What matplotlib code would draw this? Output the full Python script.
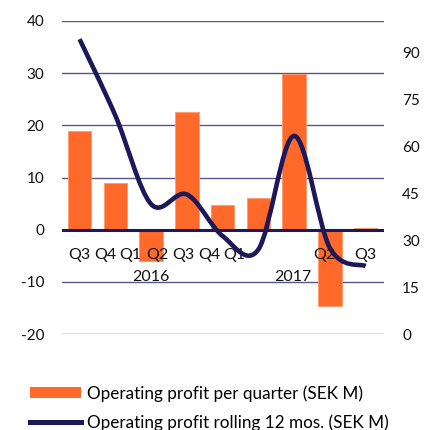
import matplotlib

matplotlib.use("Agg")

import matplotlib.pyplot as plt
from matplotlib.lines import Line2D
from matplotlib.patches import PathPatch, Patch
from matplotlib.path import Path

# Kvartalsdata (SEK M)
quarters = ["Q3", "Q4", "Q1", "Q2", "Q3", "Q4", "Q1", "Q2", "Q3"]
years = ["2016", "2017"]
profit_quarter = [18.9, 9.0, -6.1, 22.6, 4.8, 6.0, 29.8, -14.6, 0.3]
profit_rolling = [94.2, 69.8, 41.5, 44.6, 31.3, 27.0, 63.3, 27.5, 21.7]

# label placement as drawn in the original (category units)
quarter_label_x = [0.0, 0.71, 1.42, 2.17, 2.89, 3.63, 4.34, 6.86, 7.99]
year_label_x = [2.0, 5.97]

BAR_COLOR = "#ff6a2b"
LINE_COLOR = "#1d1858"
GRID_COLOR = "#57538c"

plt.rcParams["font.family"] = ["Lato", "DejaVu Sans"]
plt.rcParams["font.size"] = 11
plt.rcParams["axes.unicode_minus"] = False


def smooth_path(xs, ys):
    """Bezier-kurva genom punkterna, ungefar som Excel jamnar ut linjer."""
    pts = list(zip(xs, ys))
    verts = [pts[0]]
    codes = [Path.MOVETO]
    n = len(pts)
    for i in range(n - 1):
        p0 = pts[i - 1] if i > 0 else pts[i]
        p1 = pts[i]
        p2 = pts[i + 1]
        p3 = pts[i + 2] if i + 2 < n else pts[i + 1]
        c1 = (p1[0] + (p2[0] - p0[0]) / 6, p1[1] + (p2[1] - p0[1]) / 6)
        c2 = (p2[0] - (p3[0] - p1[0]) / 6, p2[1] - (p3[1] - p1[1]) / 6)
        verts += [c1, c2, p2]
        codes += [Path.CURVE4] * 3
    return Path(verts, codes)


fig = plt.figure(figsize=(4.32, 4.30), dpi=100)
ax = fig.add_axes([61.7 / 432, 1 - 334 / 430, (383.5 - 61.7) / 432, 313 / 430])
ax2 = ax.twinx()

x = list(range(len(quarters)))
ax.bar(x, profit_quarter, width=0.66, color=BAR_COLOR, edgecolor="#ff9a6a", linewidth=0.6, zorder=2)

ax.set_xlim(-0.5, len(quarters) - 0.5)
ax.set_ylim(-20, 40)
ax.set_yticks([-20, -10, 0, 10, 20, 30, 40])
for value in [-20, -10, 10, 20, 30, 40]:
    ax.axhline(value, color=GRID_COLOR, linewidth=1.0, zorder=1)
ax.axhline(0, color=LINE_COLOR, linewidth=2.2, zorder=3)

ax2.set_ylim(0, 100)
ax2.set_yticks([0, 15, 30, 45, 60, 75, 90])
ax2.add_patch(
    PathPatch(smooth_path(x, profit_rolling), fill=False, edgecolor=LINE_COLOR,
              linewidth=3.3, capstyle="butt", joinstyle="round", zorder=4)
)

for axis in (ax, ax2):
    for spine in axis.spines.values():
        spine.set_visible(False)
    axis.tick_params(length=0, colors="#111111")
ax.tick_params(axis="y", pad=12.5)
ax2.tick_params(axis="y", pad=13.5)
ax.set_xticks([])

for pos, label in zip(quarter_label_x, quarters):
    ax.text(pos, -4.8, label, ha="center", va="center", color="#111111", fontsize=11.5, zorder=5)
for pos, label in zip(year_label_x, years):
    ax.text(pos, -9.0, label, ha="center", va="center", color="#111111", fontsize=11.5, zorder=5)

handles = [
    Patch(facecolor=BAR_COLOR, edgecolor="none"),
    Line2D([], [], color=LINE_COLOR, linewidth=3.6),
]
labels = ["Operating profit per quarter (SEK M)", "Operating profit rolling 12 mos. (SEK M)"]
fig.legend(
    handles, labels, loc="upper left", bbox_to_anchor=(30 / 432, 1 - 385 / 430),
    frameon=False, borderpad=0, borderaxespad=0, handlelength=3.0, handleheight=0.6,
    handletextpad=0.35, labelspacing=0.75, fontsize=12.3,
)

fig.savefig("out.png", dpi=100)
